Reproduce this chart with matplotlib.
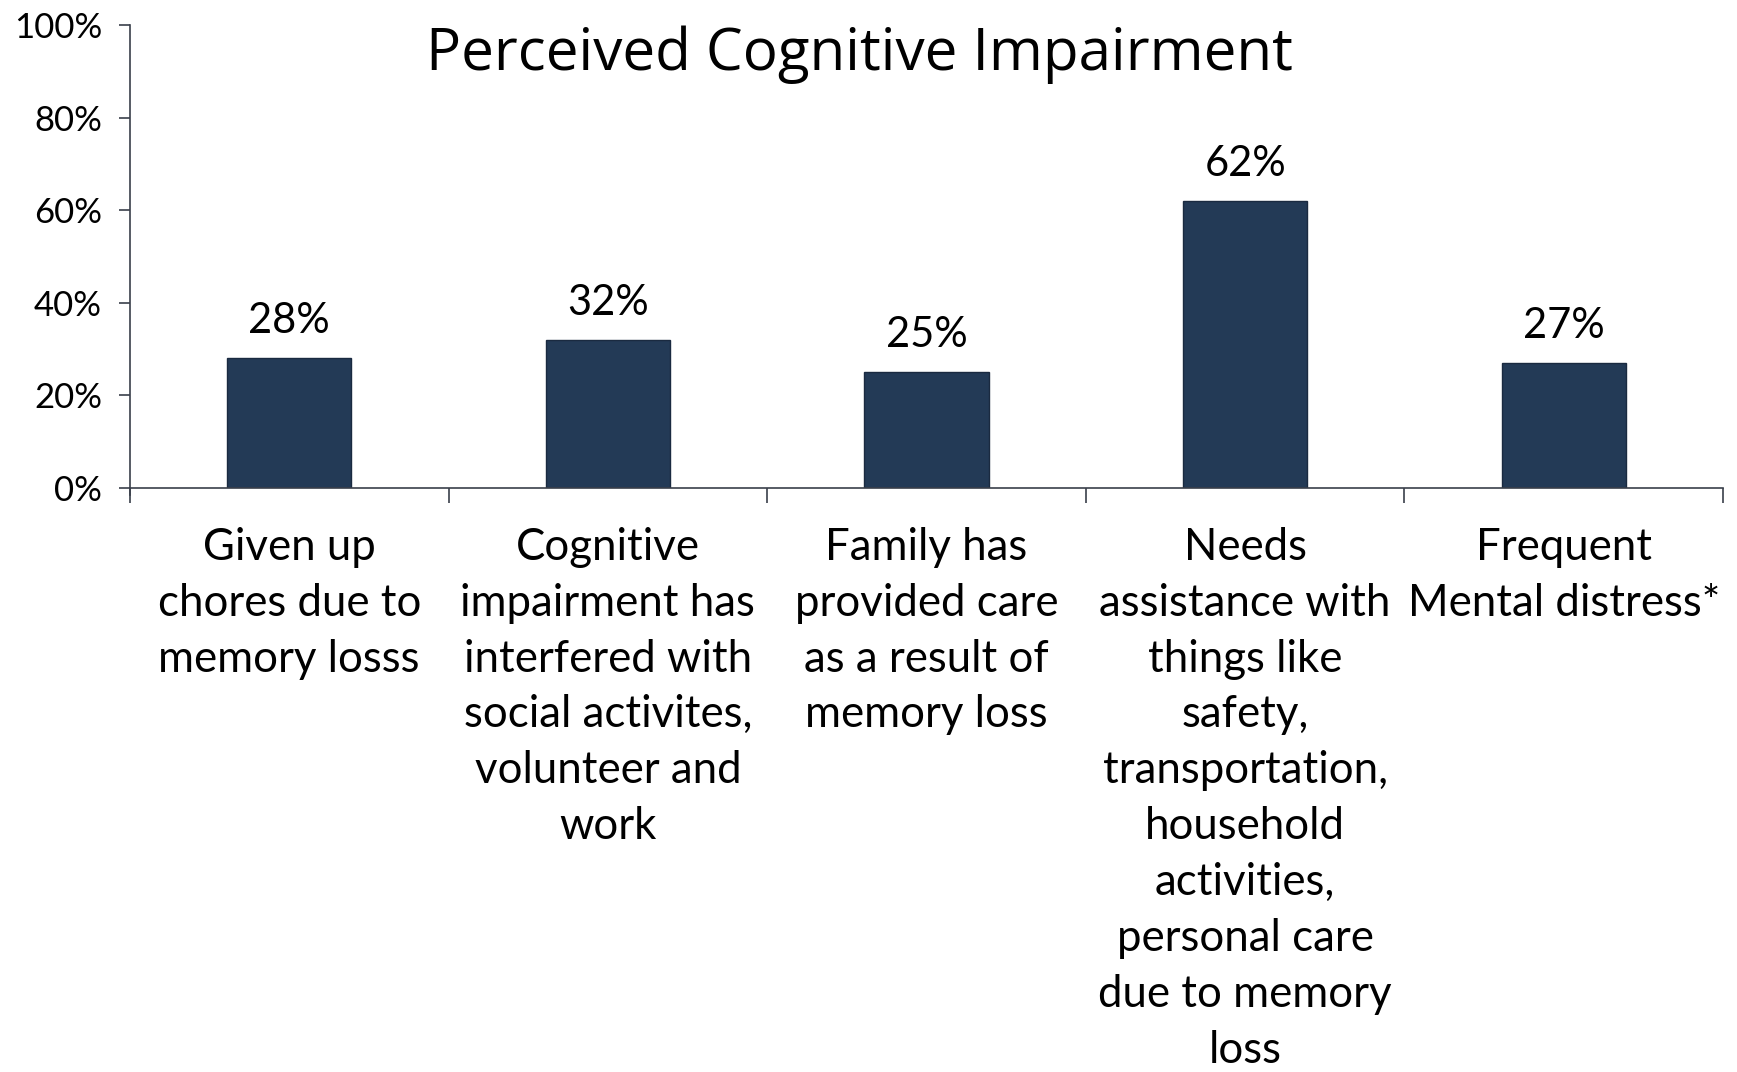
import numpy as np
import matplotlib.pyplot as plt
from matplotlib.ticker import FixedLocator

# data
categories = [
    "Given up\nchores due to\nmemory losss",
    "Cognitive\nimpairment has\ninterfered with\nsocial activites,\nvolunteer and\nwork",
    "Family has\nprovided care\nas a result of\nmemory loss",
    "Needs\nassistance with\nthings like\nsafety,\ntransportation,\nhousehold\nactivities,\npersonal care\ndue to memory\nloss",
    "Frequent\nMental distress*",
]
values = [28, 32, 25, 62, 27]
y_ticks = [0, 20, 40, 60, 80, 100]

bar_color = "#233a56"
axis_color = "#3a3f4a"

plt.rcParams["font.family"] = ["Lato", "DejaVu Sans"]

fig = plt.figure(figsize=(17.37, 10.72), dpi=100)
ax = fig.add_axes([0.0748, 0.5448, 0.9172, 0.4319])

x = np.arange(len(values))
ax.bar(x, values, width=0.39, color=bar_color, edgecolor="#1a2a40", linewidth=1)

for xi, v in zip(x, values):
    ax.annotate(f"{v}%", (xi, v), xytext=(0, 13), textcoords="offset points",
                ha="center", va="bottom", fontsize=30)

ax.set_xlim(-0.5, len(values) - 0.5)
ax.set_ylim(0, 100)
ax.set_yticks(y_ticks)
ax.set_yticklabels([f"{t}%" for t in y_ticks], fontsize=25)

ax.set_xticks(x)
ax.set_xticklabels(categories, fontsize=31.5, linespacing=1.45, va="top")
ax.xaxis.set_minor_locator(FixedLocator(np.arange(len(values) + 1) - 0.5))
ax.tick_params(axis="x", which="major", length=0, pad=28)
ax.tick_params(axis="x", which="minor", length=11, width=1.2, color=axis_color, direction="out")
ax.tick_params(axis="y", length=8, width=1.2, color=axis_color, pad=12)

for side in ["top", "right"]:
    ax.spines[side].set_visible(False)
for side in ["left", "bottom"]:
    ax.spines[side].set_color(axis_color)
    ax.spines[side].set_linewidth(1.2)
ax.spines["left"].set_bounds(-1.5, 100)

fig.text(0.495, 0.949, "Perceived Cognitive Impairment", ha="center", va="center",
         fontsize=42, family=["Open Sans", "DejaVu Sans"])

fig.savefig("out.png", dpi=100)
